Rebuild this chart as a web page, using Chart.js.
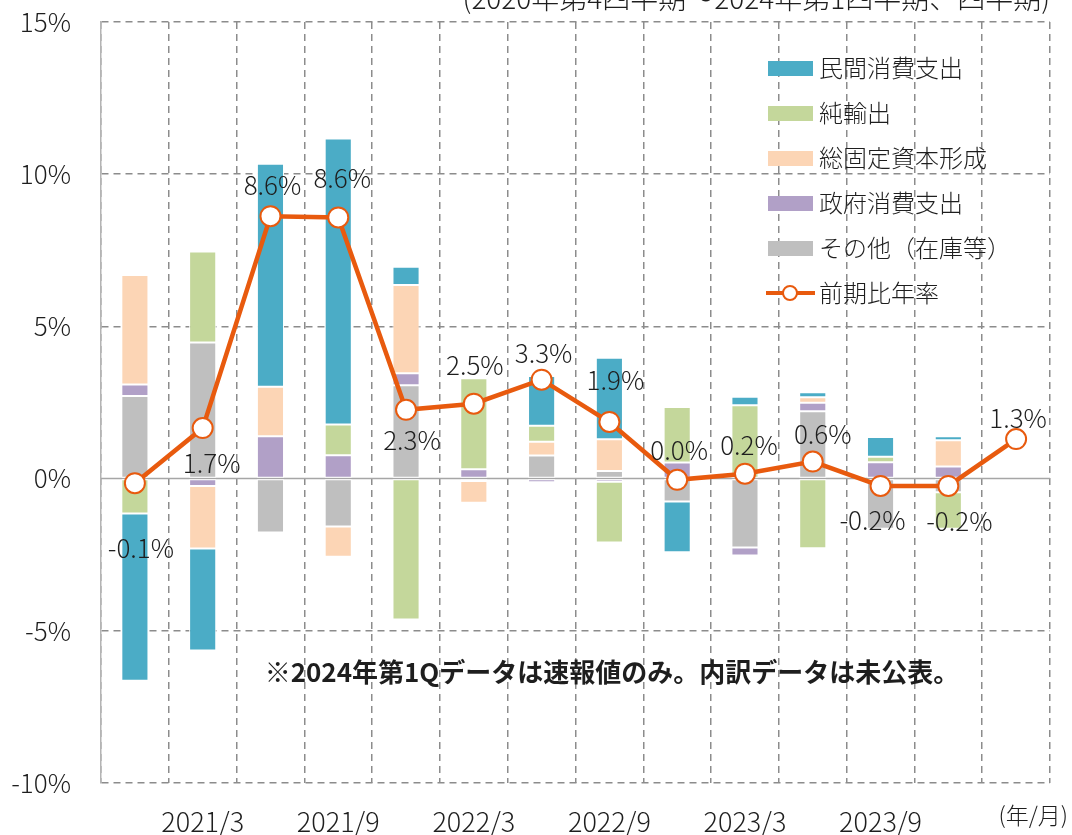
<!DOCTYPE html>
<html lang="ja">
<head>
<meta charset="utf-8">
<script src="https://cdn.jsdelivr.net/npm/chart.js@4/dist/chart.umd.min.js"></script>
<style>
html,body{margin:0;padding:0;background:#fff;}
</style>
</head>
<body>
<canvas id="chartGDP" width="1072" height="835"></canvas>
<script>

const quarters = ["2020/12","2021/3","2021/6","2021/9","2021/12","2022/3","2022/6",
"2022/9","2022/12","2023/3","2023/6","2023/9","2023/12","2024/3"];

/* 寄与度 (%pt) */
const privateCons = [-5.49,-3.35,7.32,9.39,0.6,null,1.63,2.68,-1.67,0.28,0.17,0.65,0.13,null];
const netExports  = [-1.15,2.99,null,1.01,-4.63,2.99,0.53,-2.0,1.82,2.41,-2.29,0.18,-1.2,null];
const fixedInv    = [3.6,-2.06,1.63,-1.0,2.9,-0.71,0.45,1.04,null,null,0.18,null,0.86,null];
const govCons     = [0.38,-0.24,1.39,0.77,0.39,0.31,-0.12,-0.1,0.53,-0.27,0.28,0.54,0.4,null];
const others      = [2.71,4.47,-1.77,-1.57,3.07,-0.08,0.76,0.25,-0.75,-2.26,2.21,-1.65,-0.45,null];

/* 前期比年率 (%) */
const growth = [-0.15,1.66,8.62,8.58,2.26,2.46,3.25,1.86,-0.04,0.16,0.56,-0.24,-0.24,1.3];

const yTicks = [-10,-5,0,5,10,15];

/* label placement relative to point */
const labelOffsets = [[6,65],[9,35],[2,-31],[4,-39],[6,30],[1,-39],[2,-27],[6,-42],
[2,-30],[4,-29],[10,-27],[-8,34],[11,35],[2,-21]];

const FONT = '"Noto Sans CJK JP","Noto Sans",sans-serif';
const ORANGE = "#E85A0E";
const TXT = "#1e1e1e";

function fmt(v){
let r = Math.round(v*10)/10;
if(r===0) r=0;
return r.toFixed(1)+"%";
}

function barSet(label, data, color){
return {
type:"bar",
label:label,
data:data,
backgroundColor:color,
borderColor:"#ffffff",
borderWidth:1,
borderSkipped:false,
stack:"gdp",
order:1,
barPercentage:0.4,
categoryPercentage:1.0
};
}

/* line values */
const pointLabels = {
id:"pointLabels",
afterDatasetsDraw(chart){
const ctx = chart.ctx;
const meta = chart.getDatasetMeta(0);
ctx.save();
ctx.font = "300 26px "+FONT;
ctx.fillStyle = TXT;
ctx.textAlign = "center";
ctx.textBaseline = "middle";
meta.data.forEach((pt,i)=>{
let off = labelOffsets[i];
ctx.fillText(fmt(growth[i]), pt.x+off[0], pt.y+off[1]);
});
ctx.restore();
}
};

/* zero line */
const zeroLine = {
id:"zeroLine",
beforeDatasetsDraw(chart){
const ctx = chart.ctx;
const y = chart.scales.y.getPixelForValue(0);
ctx.save();
ctx.strokeStyle = "#a6a6a6";
ctx.lineWidth = 1.5;
ctx.beginPath();
ctx.moveTo(chart.chartArea.left, y);
ctx.lineTo(chart.chartArea.right, y);
ctx.stroke();
ctx.restore();
}
};

/* legend inside plot */
const insideLegend = {
id:"insideLegend",
afterDraw(chart){
const ctx = chart.ctx;
const ds = chart.data.datasets;
let items = ds.slice(1).reverse();
items.push(ds[0]);
ctx.save();
ctx.font = "300 24px "+FONT;
ctx.textBaseline = "middle";
ctx.textAlign = "left";
items.forEach((d,i)=>{
let y = 68 + i*45;
if(d.type==="line"){
ctx.strokeStyle = ORANGE;
ctx.lineWidth = 4;
ctx.beginPath();
ctx.moveTo(766,y);
ctx.lineTo(815,y);
ctx.stroke();
ctx.beginPath();
ctx.arc(790,y,7,0,Math.PI*2);
ctx.fillStyle="#fff";
ctx.fill();
ctx.lineWidth=2;
ctx.stroke();
}else{
ctx.fillStyle = d.backgroundColor;
ctx.fillRect(768,y-7,45,15);
}
ctx.fillStyle = TXT;
ctx.fillText(d.label, 819, y);
});
ctx.restore();
}
};

/* texts */
const notes = {
id:"notes",
afterDraw(chart){
const ctx = chart.ctx;
ctx.save();
ctx.fillStyle = TXT;
ctx.textBaseline = "middle";
ctx.font = "300 28px "+FONT;
ctx.textAlign = "right";
ctx.fillText("(2020年第4四半期～2024年第1四半期、四半期)", 1050, -2);
ctx.font = "300 23px "+FONT;
ctx.fillText("(年/月)", 1068, 815);
ctx.font = "bold 26px "+FONT;
ctx.textAlign = "center";
ctx.fillText("※2024年第1Qデータは速報値のみ。内訳データは未公表。", 612, 672);
ctx.restore();
}
};

new Chart(document.getElementById("chartGDP"),{
data:{
labels:quarters,
datasets:[
{
type:"line",
label:"前期比年率",
data:growth,
borderColor:ORANGE,
borderWidth:4.5,
pointRadius:10,
pointHoverRadius:10,
pointBackgroundColor:"#ffffff",
pointBorderColor:ORANGE,
pointBorderWidth:2,
tension:0,
stack:"line",
order:0
},
barSet("その他（在庫等）", others, "#BFBFBF"),
barSet("政府消費支出", govCons, "#B1A0C7"),
barSet("総固定資本形成", fixedInv, "#FCD5B5"),
barSet("純輸出", netExports, "#C4D79B"),
barSet("民間消費支出", privateCons, "#4BACC6")
]
},
options:{
responsive:false,
devicePixelRatio:1,
animation:false,
layout:{padding:{top:22,right:22,left:0,bottom:0}},
plugins:{
legend:{display:false},
tooltip:{enabled:false}
},
scales:{
x:{
stacked:true,
offset:true,
grid:{
display:true,
offset:true,
drawTicks:false,
color:"#8c8c8c",
lineWidth:1.5
},
border:{display:false,dash:[7,5]},
ticks:{
autoSkip:false,
maxRotation:0,
padding:23,
color:TXT,
font:{family:FONT,size:27,weight:"300"},
callback:(v,i)=> (i%2===1 && i<quarters.length-1) ? quarters[i] : ""
},
afterFit:(s)=>{ s.height = 52; s.paddingLeft = 0; s.paddingRight = 0; }
},
y:{
stacked:true,
min:-10,
max:15,
afterBuildTicks:(s)=>{ s.ticks = yTicks.map(v=>({value:v})); },
grid:{
drawTicks:false,
color:(c)=> c.tick && c.tick.value===0 ? "rgba(0,0,0,0)" : "#8c8c8c",
lineWidth:1.5
},
border:{display:true,color:"#b4b4b4",width:1.5,dash:[7,5]},
ticks:{
padding:30,
color:TXT,
font:{family:FONT,size:26,weight:"300"},
callback:(v)=> v+"%"
},
afterFit:(s)=>{ s.width = 101; s.paddingTop = 0; s.paddingBottom = 0; }
}
}
},
plugins:[zeroLine,pointLabels,insideLegend,notes]
});

</script>
</body>
</html>
